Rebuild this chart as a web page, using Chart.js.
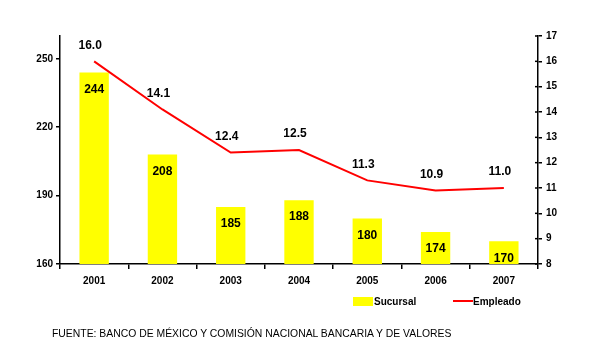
<!DOCTYPE html>
<html>
<head>
<meta charset="utf-8">
<script src="https://cdn.jsdelivr.net/npm/chart.js@4/dist/chart.umd.min.js"></script>
<style>
  body { margin: 0; background: #fff; }
  .wrap { position: relative; width: 600px; height: 360px; }
  .fuente { position: absolute; left: 52px; top: 328px; font: 10.4px "Liberation Sans", Arial, sans-serif; color: #000; }
</style>
</head>
<body>
<div class="wrap">
  <canvas id="chart" width="600" height="360"></canvas>
  <div class="fuente">FUENTE: BANCO DE MÉXICO Y COMISIÓN NACIONAL BANCARIA Y DE VALORES</div>
</div>
<script>
'use strict';

const years = ['2001', '2002', '2003', '2004', '2005', '2006', '2007'];
const sucursal = [244, 208, 185, 188, 180, 174, 170];
const empleado = [16.0, 14.1, 12.4, 12.5, 11.3, 10.9, 11.0];
const leftTicks = [160, 190, 220, 250];

const ctx = document.getElementById('chart').getContext('2d');
const fontFam = '"Liberation Sans", Arial, sans-serif';
const tickFont = { family: fontFam, size: 10, weight: 'bold' };

// value labels + legend
const labelsPlugin = {
  id: 'labels',
  afterDatasetsDraw(chart) {
    const c = chart.ctx;
    c.save();
    c.fillStyle = '#000';
    c.textAlign = 'center';
    c.textBaseline = 'middle';
    c.font = 'bold 12px ' + fontFam;
    chart.getDatasetMeta(0).data.forEach((bar, i) => {
      const off = Math.min(17, (bar.base - bar.y) / 2 + 2);
      c.fillText(sucursal[i], bar.x, bar.y + off);
    });
    chart.getDatasetMeta(1).data.forEach((pt, i) => {
      c.fillText(empleado[i].toFixed(1), pt.x - 4, pt.y - 16);
    });
    c.restore();
  },
  afterDraw(chart) {
    const c = chart.ctx;
    const ds = chart.data.datasets;
    c.save();
    c.font = 'bold 10px ' + fontFam;
    c.textBaseline = 'middle';
    c.fillStyle = ds[0].backgroundColor;
    c.fillRect(353, 297, 20, 9);
    c.fillStyle = '#000';
    c.fillText(ds[0].label, 374, 302);
    c.strokeStyle = ds[1].borderColor;
    c.lineWidth = 2;
    c.beginPath();
    c.moveTo(453, 301);
    c.lineTo(473, 301);
    c.stroke();
    c.fillText(ds[1].label, 473, 302);
    // right axis ticks cross the axis line
    const y1 = chart.scales.y1;
    c.strokeStyle = '#000';
    c.lineWidth = 1.5;
    y1.ticks.forEach(t => {
      const y = y1.getPixelForValue(t.value);
      c.beginPath();
      c.moveTo(y1.left - 3, y);
      c.lineTo(y1.left, y);
      c.stroke();
    });
    c.restore();
  }
};

new Chart(ctx, {
  type: 'bar',
  data: {
    labels: years,
    datasets: [
      {
        label: 'Sucursal',
        data: sucursal,
        backgroundColor: '#ffff00',
        barPercentage: 0.43,
        categoryPercentage: 1,
        yAxisID: 'y',
        order: 2
      },
      {
        type: 'line',
        label: 'Empleado',
        data: empleado,
        borderColor: '#ff0000',
        backgroundColor: '#ff0000',
        borderWidth: 2,
        pointRadius: 0,
        tension: 0,
        yAxisID: 'y1',
        order: 1
      }
    ]
  },
  options: {
    responsive: false,
    animation: false,
    layout: { padding: { top: 36, bottom: 66, left: 0, right: 0 } },
    plugins: {
      legend: { display: false },
      tooltip: { enabled: false }
    },
    scales: {
      x: {
        offset: true,
        grid: { display: true, drawOnChartArea: false, offset: true, color: '#000', tickLength: 5, lineWidth: 1.5 },
        border: { color: '#000', width: 1.5 },
        ticks: { color: '#000', font: tickFont, padding: 6 },
        afterFit(scale) { scale.height = 30; }
      },
      y: {
        position: 'left',
        min: 160,
        max: 260,
        afterBuildTicks(scale) { scale.ticks = leftTicks.map(v => ({ value: v })); },
        grid: { drawOnChartArea: false, color: '#000', tickLength: 4, lineWidth: 1.5 },
        border: { color: '#000', width: 1.5 },
        ticks: { color: '#000', font: tickFont, padding: 3 },
        afterFit(scale) { scale.width = 60; }
      },
      y1: {
        position: 'right',
        min: 8,
        max: 17,
        ticks: { stepSize: 1, color: '#000', font: tickFont, padding: 4 },
        grid: { drawOnChartArea: false, color: '#000', tickLength: 4, lineWidth: 1.5 },
        border: { color: '#000', width: 1.5 },
        afterFit(scale) { scale.width = 62; }
      }
    }
  },
  plugins: [labelsPlugin]
});
</script>
</body>
</html>
